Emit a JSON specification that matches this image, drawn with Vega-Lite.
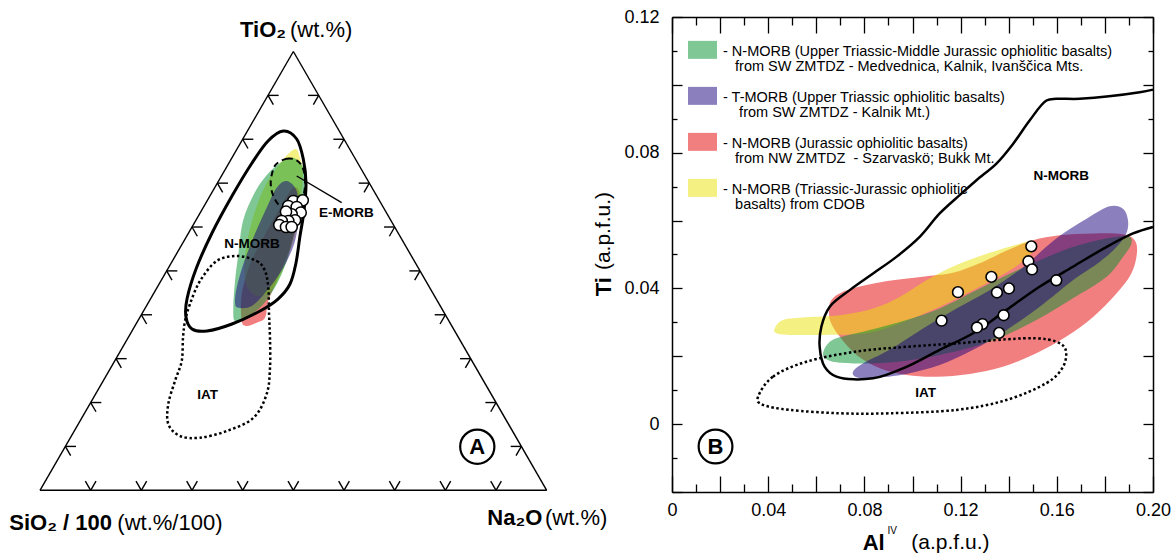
{
  "$schema": "https://vega.github.io/schema/vega-lite/v6.json",
  "padding": {"left": 0, "top": 8, "right": 0, "bottom": 0},
  "bounds": "flush",
  "spacing": 72,
  "config": {
    "font": "Liberation Sans",
    "view": {"stroke": null},
    "axis": {"grid": false, "domainColor": "black", "tickColor": "black", "labelColor": "black", "domainWidth": 1.5, "tickWidth": 1.3, "labelFont": "Liberation Sans"},
    "text": {"font": "Liberation Sans", "color": "black"}
  },
  "resolve": {"scale": {"color": "independent"}, "legend": {"color": "independent"}},
  "datasets": {
    "a_red": [{"x":0.3981,"y":0.3868},{"x":0.3981,"y":0.3341},{"x":0.4079,"y":0.3243},{"x":0.4277,"y":0.3308},{"x":0.4441,"y":0.3406},{"x":0.4506,"y":0.3736},{"x":0.4671,"y":0.4131},{"x":0.4934,"y":0.4788},{"x":0.5098,"y":0.5380},{"x":0.5131,"y":0.5842},{"x":0.4999,"y":0.5972},{"x":0.4737,"y":0.5577},{"x":0.4407,"y":0.4985},{"x":0.4145,"y":0.4460}],
    "a_yellow": [{"x":0.5033,"y":0.6736},{"x":0.5131,"y":0.6558},{"x":0.5190,"y":0.6203},{"x":0.5092,"y":0.5315},{"x":0.4934,"y":0.4723},{"x":0.4638,"y":0.4032},{"x":0.4302,"y":0.3835},{"x":0.4066,"y":0.4072},{"x":0.4046,"y":0.4624},{"x":0.4184,"y":0.5315},{"x":0.4441,"y":0.6006},{"x":0.4776,"y":0.6499}],
    "a_green": [{"x":0.4999,"y":0.6564},{"x":0.5230,"y":0.6302},{"x":0.5230,"y":0.5842},{"x":0.5171,"y":0.5414},{"x":0.5033,"y":0.5118},{"x":0.4869,"y":0.4525},{"x":0.4671,"y":0.4066},{"x":0.4407,"y":0.3671},{"x":0.4079,"y":0.3406},{"x":0.3849,"y":0.3341},{"x":0.3815,"y":0.3604},{"x":0.3849,"y":0.4131},{"x":0.3914,"y":0.4658},{"x":0.4006,"y":0.5315},{"x":0.4223,"y":0.5848},{"x":0.4460,"y":0.6203},{"x":0.4737,"y":0.6460}],
    "a_purple": [{"x":0.3849,"y":0.3702},{"x":0.3914,"y":0.3604},{"x":0.4178,"y":0.3637},{"x":0.4474,"y":0.3933},{"x":0.4802,"y":0.4393},{"x":0.5033,"y":0.4920},{"x":0.5098,"y":0.5447},{"x":0.5066,"y":0.5907},{"x":0.4869,"y":0.6104},{"x":0.4671,"y":0.5972},{"x":0.4474,"y":0.5577},{"x":0.4210,"y":0.4985},{"x":0.4012,"y":0.4460},{"x":0.3882,"y":0.3998}],
    "a_nmorb": [{"x":0.4802,"y":0.7091},{"x":0.5066,"y":0.6933},{"x":0.5196,"y":0.6539},{"x":0.5250,"y":0.6065},{"x":0.5210,"y":0.5512},{"x":0.5131,"y":0.5019},{"x":0.5052,"y":0.4486},{"x":0.4934,"y":0.4072},{"x":0.4697,"y":0.3775},{"x":0.4342,"y":0.3539},{"x":0.3789,"y":0.3282},{"x":0.3296,"y":0.3144},{"x":0.3000,"y":0.3183},{"x":0.2881,"y":0.3420},{"x":0.2901,"y":0.3775},{"x":0.3079,"y":0.4368},{"x":0.3395,"y":0.5078},{"x":0.3789,"y":0.5808},{"x":0.4184,"y":0.6460},{"x":0.4500,"y":0.6894}],
    "a_emorb": [{"x":0.4671,"y":0.6446},{"x":0.4869,"y":0.6544},{"x":0.5066,"y":0.6513},{"x":0.5185,"y":0.6367},{"x":0.5230,"y":0.6138},{"x":0.5210,"y":0.5873},{"x":0.5098,"y":0.5644},{"x":0.4869,"y":0.5565},{"x":0.4703,"y":0.5644},{"x":0.4593,"y":0.5842},{"x":0.4553,"y":0.6071},{"x":0.4593,"y":0.6302}],
    "a_iat": [{"x":0.3882,"y":0.4624},{"x":0.4277,"y":0.4525},{"x":0.4441,"y":0.4328},{"x":0.4506,"y":0.3993},{"x":0.4520,"y":0.3479},{"x":0.4539,"y":0.3006},{"x":0.4539,"y":0.2414},{"x":0.4474,"y":0.1901},{"x":0.4210,"y":0.1427},{"x":0.3685,"y":0.1170},{"x":0.3158,"y":0.1038},{"x":0.2763,"y":0.1072},{"x":0.2532,"y":0.1308},{"x":0.2532,"y":0.1703},{"x":0.2664,"y":0.2157},{"x":0.2797,"y":0.2552},{"x":0.2822,"y":0.3006},{"x":0.2862,"y":0.3341},{"x":0.2960,"y":0.3677},{"x":0.3158,"y":0.4131},{"x":0.3487,"y":0.4525}],
    "a_rules": [
      {"x":0,"y":0,"x2":1,"y2":0},{"x":0,"y":0,"x2":0.5,"y2":0.866},{"x":1,"y":0,"x2":0.5,"y2":0.866},
      {"x":0.1,"y":0,"x2":0.0895,"y2":0.0182},{"x":0.1,"y":0,"x2":0.1105,"y2":0.0182},
      {"x":0.2,"y":0,"x2":0.1895,"y2":0.0182},{"x":0.2,"y":0,"x2":0.2105,"y2":0.0182},
      {"x":0.3,"y":0,"x2":0.2895,"y2":0.0182},{"x":0.3,"y":0,"x2":0.3105,"y2":0.0182},
      {"x":0.4,"y":0,"x2":0.3895,"y2":0.0182},{"x":0.4,"y":0,"x2":0.4105,"y2":0.0182},
      {"x":0.5,"y":0,"x2":0.4895,"y2":0.0182},{"x":0.5,"y":0,"x2":0.5105,"y2":0.0182},
      {"x":0.6,"y":0,"x2":0.5895,"y2":0.0182},{"x":0.6,"y":0,"x2":0.6105,"y2":0.0182},
      {"x":0.7,"y":0,"x2":0.6895,"y2":0.0182},{"x":0.7,"y":0,"x2":0.7105,"y2":0.0182},
      {"x":0.8,"y":0,"x2":0.7895,"y2":0.0182},{"x":0.8,"y":0,"x2":0.8105,"y2":0.0182},
      {"x":0.9,"y":0,"x2":0.8895,"y2":0.0182},{"x":0.9,"y":0,"x2":0.9105,"y2":0.0182},
      {"x":0.05,"y":0.0866,"x2":0.071,"y2":0.0866},{"x":0.05,"y":0.0866,"x2":0.0605,"y2":0.0684},
      {"x":0.10,"y":0.1732,"x2":0.121,"y2":0.1732},{"x":0.10,"y":0.1732,"x2":0.1105,"y2":0.1550},
      {"x":0.15,"y":0.2598,"x2":0.171,"y2":0.2598},{"x":0.15,"y":0.2598,"x2":0.1605,"y2":0.2416},
      {"x":0.20,"y":0.3464,"x2":0.221,"y2":0.3464},{"x":0.20,"y":0.3464,"x2":0.2105,"y2":0.3282},
      {"x":0.25,"y":0.4330,"x2":0.271,"y2":0.4330},{"x":0.25,"y":0.4330,"x2":0.2605,"y2":0.4148},
      {"x":0.30,"y":0.5196,"x2":0.321,"y2":0.5196},{"x":0.30,"y":0.5196,"x2":0.3105,"y2":0.5014},
      {"x":0.35,"y":0.6062,"x2":0.371,"y2":0.6062},{"x":0.35,"y":0.6062,"x2":0.3605,"y2":0.5880},
      {"x":0.40,"y":0.6928,"x2":0.421,"y2":0.6928},{"x":0.40,"y":0.6928,"x2":0.4105,"y2":0.6746},
      {"x":0.45,"y":0.7794,"x2":0.471,"y2":0.7794},{"x":0.45,"y":0.7794,"x2":0.4605,"y2":0.7612},
      {"x":0.95,"y":0.0866,"x2":0.929,"y2":0.0866},{"x":0.95,"y":0.0866,"x2":0.9395,"y2":0.0684},
      {"x":0.90,"y":0.1732,"x2":0.879,"y2":0.1732},{"x":0.90,"y":0.1732,"x2":0.8895,"y2":0.1550},
      {"x":0.85,"y":0.2598,"x2":0.829,"y2":0.2598},{"x":0.85,"y":0.2598,"x2":0.8395,"y2":0.2416},
      {"x":0.80,"y":0.3464,"x2":0.779,"y2":0.3464},{"x":0.80,"y":0.3464,"x2":0.7895,"y2":0.3282},
      {"x":0.75,"y":0.4330,"x2":0.729,"y2":0.4330},{"x":0.75,"y":0.4330,"x2":0.7395,"y2":0.4148},
      {"x":0.70,"y":0.5196,"x2":0.679,"y2":0.5196},{"x":0.70,"y":0.5196,"x2":0.6895,"y2":0.5014},
      {"x":0.65,"y":0.6062,"x2":0.629,"y2":0.6062},{"x":0.65,"y":0.6062,"x2":0.6395,"y2":0.5880},
      {"x":0.60,"y":0.6928,"x2":0.579,"y2":0.6928},{"x":0.60,"y":0.6928,"x2":0.5895,"y2":0.6746},
      {"x":0.55,"y":0.7794,"x2":0.529,"y2":0.7794},{"x":0.55,"y":0.7794,"x2":0.5395,"y2":0.7612},
      {"x":0.5066,"y":0.6203,"x2":0.5954,"y2":0.5676}
    ],
    "a_pts": [{"x":0.4999,"y":0.5710},{"x":0.5185,"y":0.5723},{"x":0.4900,"y":0.5611},{"x":0.5066,"y":0.5591},{"x":0.5145,"y":0.5479},{"x":0.4967,"y":0.5447},{"x":0.4855,"y":0.5498},{"x":0.5033,"y":0.5329},{"x":0.4900,"y":0.5315},{"x":0.4770,"y":0.5315},{"x":0.4723,"y":0.5236},{"x":0.4855,"y":0.5196},{"x":0.4967,"y":0.5196}],
    "a_ring": [{"x":0.8630,"y":0.0860,"t":"A"}],
    "a_lbl": [{"x":0.4184,"y":0.4855,"t":"N-MORB"},{"x":0.6045,"y":0.5479,"t":"E-MORB"},{"x":0.3306,"y":0.1875,"t":"IAT"}],
    "a_tb": [{"x":0.3947,"y":0.9078,"t":"TiO₂"},{"x":-0.0606,"y":-0.0639,"t":"SiO₂ / 100"},{"x":0.8828,"y":-0.0541,"t":"Na₂O"}],
    "a_tn": [{"x":0.4934,"y":0.9078,"t":"(wt.%)"},{"x":0.1526,"y":-0.0639,"t":"(wt.%/100)"},{"x":0.9966,"y":-0.0541,"t":"(wt.%)"}],
    "b_red": [{"x":0.0653,"y":0.0336},{"x":0.0663,"y":0.0366},{"x":0.0711,"y":0.0390},{"x":0.0808,"y":0.0410},{"x":0.0919,"y":0.0424},{"x":0.1058,"y":0.0436},{"x":0.1168,"y":0.0446},{"x":0.1279,"y":0.0474},{"x":0.1390,"y":0.0511},{"x":0.1501,"y":0.0542},{"x":0.1612,"y":0.0557},{"x":0.1751,"y":0.0562},{"x":0.1875,"y":0.0560},{"x":0.1924,"y":0.0542},{"x":0.1933,"y":0.0503},{"x":0.1910,"y":0.0444},{"x":0.1848,"y":0.0385},{"x":0.1751,"y":0.0316},{"x":0.1640,"y":0.0258},{"x":0.1515,"y":0.0209},{"x":0.1376,"y":0.0169},{"x":0.1238,"y":0.0148},{"x":0.1099,"y":0.0140},{"x":0.0975,"y":0.0145},{"x":0.0864,"y":0.0165},{"x":0.0767,"y":0.0204},{"x":0.0697,"y":0.0258},{"x":0.0659,"y":0.0302}],
    "b_yellow": [{"x":0.0427,"y":0.0282},{"x":0.0462,"y":0.0307},{"x":0.0559,"y":0.0315},{"x":0.0697,"y":0.0321},{"x":0.0836,"y":0.0341},{"x":0.0947,"y":0.0375},{"x":0.1058,"y":0.0424},{"x":0.1183,"y":0.0469},{"x":0.1321,"y":0.0505},{"x":0.1446,"y":0.0532},{"x":0.1487,"y":0.0537},{"x":0.1508,"y":0.0522},{"x":0.1487,"y":0.0498},{"x":0.1418,"y":0.0459},{"x":0.1279,"y":0.0405},{"x":0.1113,"y":0.0346},{"x":0.0947,"y":0.0297},{"x":0.0808,"y":0.0268},{"x":0.0628,"y":0.0263},{"x":0.0489,"y":0.0263},{"x":0.0434,"y":0.0268}],
    "b_green": [{"x":0.0628,"y":0.0209},{"x":0.0649,"y":0.0238},{"x":0.0697,"y":0.0256},{"x":0.0836,"y":0.0280},{"x":0.0975,"y":0.0307},{"x":0.1113,"y":0.0341},{"x":0.1252,"y":0.0390},{"x":0.1390,"y":0.0439},{"x":0.1529,"y":0.0483},{"x":0.1667,"y":0.0522},{"x":0.1806,"y":0.0547},{"x":0.1896,"y":0.0554},{"x":0.1910,"y":0.0532},{"x":0.1875,"y":0.0493},{"x":0.1806,"y":0.0434},{"x":0.1667,"y":0.0371},{"x":0.1529,"y":0.0312},{"x":0.1390,"y":0.0263},{"x":0.1252,"y":0.0228},{"x":0.1113,"y":0.0204},{"x":0.0975,"y":0.0187},{"x":0.0836,"y":0.0179},{"x":0.0697,"y":0.0181},{"x":0.0642,"y":0.0191}],
    "b_purple": [{"x":0.0753,"y":0.0155},{"x":0.0794,"y":0.0179},{"x":0.0905,"y":0.0219},{"x":0.1044,"y":0.0282},{"x":0.1183,"y":0.0341},{"x":0.1321,"y":0.0395},{"x":0.1459,"y":0.0462},{"x":0.1598,"y":0.0547},{"x":0.1737,"y":0.0611},{"x":0.1820,"y":0.0642},{"x":0.1875,"y":0.0635},{"x":0.1896,"y":0.0601},{"x":0.1889,"y":0.0562},{"x":0.1848,"y":0.0522},{"x":0.1778,"y":0.0478},{"x":0.1667,"y":0.0424},{"x":0.1529,"y":0.0346},{"x":0.1390,"y":0.0277},{"x":0.1252,"y":0.0219},{"x":0.1113,"y":0.0174},{"x":0.0975,"y":0.0148},{"x":0.0836,"y":0.0136},{"x":0.0767,"y":0.0138}],
    "b_nmorb": [{"x":0.2000,"y":0.0986},{"x":0.1945,"y":0.0978},{"x":0.1695,"y":0.0959},{"x":0.1598,"y":0.0959},{"x":0.1557,"y":0.0954},{"x":0.1487,"y":0.0895},{"x":0.1418,"y":0.0826},{"x":0.1349,"y":0.0768},{"x":0.1266,"y":0.0719},{"x":0.1196,"y":0.0675},{"x":0.1113,"y":0.0621},{"x":0.1030,"y":0.0552},{"x":0.0933,"y":0.0493},{"x":0.0836,"y":0.0444},{"x":0.0739,"y":0.0395},{"x":0.0656,"y":0.0346},{"x":0.0621,"y":0.0287},{"x":0.0614,"y":0.0228},{"x":0.0635,"y":0.0169},{"x":0.0684,"y":0.0140},{"x":0.0836,"y":0.0135},{"x":0.0975,"y":0.0169},{"x":0.1113,"y":0.0219},{"x":0.1252,"y":0.0268},{"x":0.1390,"y":0.0336},{"x":0.1528,"y":0.0405},{"x":0.1667,"y":0.0464},{"x":0.1806,"y":0.0522},{"x":0.1917,"y":0.0562},{"x":0.2000,"y":0.0581}],
    "b_iat": [{"x":0.0358,"y":0.0081},{"x":0.0420,"y":0.0140},{"x":0.0559,"y":0.0184},{"x":0.0767,"y":0.0214},{"x":0.0975,"y":0.0228},{"x":0.1183,"y":0.0238},{"x":0.1390,"y":0.0250},{"x":0.1515,"y":0.0253},{"x":0.1598,"y":0.0243},{"x":0.1637,"y":0.0219},{"x":0.1626,"y":0.0169},{"x":0.1557,"y":0.0121},{"x":0.1390,"y":0.0071},{"x":0.1183,"y":0.0042},{"x":0.0905,"y":0.0032},{"x":0.0697,"y":0.0032},{"x":0.0489,"y":0.0042},{"x":0.0378,"y":0.0057}],
    "b_pts": [{"x":0.1494,"y":0.0524},{"x":0.1482,"y":0.0480},{"x":0.1497,"y":0.0456},{"x":0.1598,"y":0.0424},{"x":0.1328,"y":0.0434},{"x":0.1189,"y":0.0389},{"x":0.1351,"y":0.0388},{"x":0.1401,"y":0.0400},{"x":0.1121,"y":0.0305},{"x":0.1379,"y":0.0321},{"x":0.1291,"y":0.0295},{"x":0.1268,"y":0.0285},{"x":0.1360,"y":0.0269}],
    "b_ring": [{"x":0.0181,"y":-0.0066,"t":"B"}],
    "b_lbl": [{"x":0.1619,"y":0.0731,"t":"N-MORB"},{"x":0.1055,"y":0.0091,"t":"IAT"}],
    "b_xtb": [{"x":0.0793,"y":-0.0349,"t":"Al"}],
    "b_xts": [{"x":0.0896,"y":-0.0314,"t":"IV"}],
    "b_xtn": [{"x":0.0995,"y":-0.0349,"t":"(a.p.f.u.)"}],
    "b_ytb": [{"x":-0.0284,"y":0.0377,"t":"Ti"}],
    "b_ytn": [{"x":-0.0284,"y":0.0454,"t":"(a.p.f.u.)"}]
  },
  "hconcat": [
    {
      "width": 600,
      "height": 475,
      "encoding": {
        "x": {"field": "x", "type": "quantitative", "scale": {"domain": [-0.07894, 1.10519], "nice": false, "zero": false}, "axis": null},
        "y": {"field": "y", "type": "quantitative", "scale": {"domain": [-0.00336, 0.93408], "nice": false, "zero": false}, "axis": null}
      },
      "layer": [
        {"data": {"name": "a_red"}, "mark": {"type": "line", "filled": true, "interpolate": "cardinal-closed", "color": "#e60000", "opacity": 0.5, "strokeWidth": 0}, "encoding": {"order": {"value": null}}},
        {"data": {"name": "a_yellow"}, "mark": {"type": "line", "filled": true, "interpolate": "cardinal-closed", "color": "#e9e105", "opacity": 0.5, "strokeWidth": 0}, "encoding": {"order": {"value": null}}},
        {"data": {"name": "a_green"}, "mark": {"type": "line", "filled": true, "interpolate": "cardinal-closed", "color": "#00912d", "opacity": 0.5, "strokeWidth": 0}, "encoding": {"order": {"value": null}}},
        {"data": {"name": "a_purple"}, "mark": {"type": "line", "filled": true, "interpolate": "cardinal-closed", "color": "#19007d", "opacity": 0.5, "strokeWidth": 0}, "encoding": {"order": {"value": null}}},
        {"data": {"name": "a_nmorb"}, "mark": {"type": "line", "interpolate": "cardinal-closed", "color": "black", "strokeWidth": 3}, "encoding": {"order": {"value": null}}},
        {"data": {"name": "a_emorb"}, "mark": {"type": "line", "interpolate": "cardinal-closed", "color": "black", "strokeWidth": 2, "strokeDash": [6, 4]}, "encoding": {"order": {"value": null}}},
        {"data": {"name": "a_iat"}, "mark": {"type": "line", "interpolate": "cardinal-closed", "color": "black", "strokeWidth": 2.5, "strokeDash": [2.5, 2.5]}, "encoding": {"order": {"value": null}}},
        {"data": {"name": "a_rules"}, "mark": {"type": "rule", "color": "black", "strokeWidth": 1.4}, "encoding": {"x2": {"field": "x2"}, "y2": {"field": "y2"}}},
        {"data": {"name": "a_pts"}, "mark": {"type": "point", "shape": "circle", "filled": true, "fill": "white", "stroke": "black", "strokeWidth": 1.5, "size": 125, "opacity": 1}},
        {"data": {"name": "a_ring"}, "mark": {"type": "point", "shape": "circle", "filled": false, "stroke": "black", "strokeWidth": 2.2, "size": 1170, "opacity": 1}},
        {"data": {"name": "a_ring"}, "mark": {"type": "text", "fontSize": 22, "fontWeight": "bold", "align": "center", "baseline": "middle"}, "encoding": {"text": {"field": "t"}}},
        {"data": {"name": "a_lbl"}, "mark": {"type": "text", "fontSize": 13.5, "fontWeight": "bold", "align": "center", "baseline": "middle"}, "encoding": {"text": {"field": "t"}}},
        {"data": {"name": "a_tb"}, "mark": {"type": "text", "fontSize": 22, "fontWeight": "bold", "align": "left", "baseline": "middle"}, "encoding": {"text": {"field": "t"}}},
        {"data": {"name": "a_tn"}, "mark": {"type": "text", "fontSize": 22, "fontWeight": "normal", "align": "left", "baseline": "middle"}, "encoding": {"text": {"field": "t"}}}
      ]
    },
    {
      "width": 481,
      "height": 475,
      "resolve": {"axis": {"x": "independent", "y": "independent"}},
      "layer": [
        {"data": {"name": "b_red"}, "mark": {"type": "line", "filled": true, "interpolate": "cardinal-closed", "opacity": 0.5, "strokeWidth": 0},
         "encoding": {
           "x": {"field": "x", "type": "quantitative", "scale": {"domain": [0, 0.2], "nice": false, "zero": false},
                 "axis": {"orient": "bottom", "values": [0, 0.04, 0.08, 0.12, 0.16, 0.2], "ticks": false, "domain": true, "labels": true, "labelExpr": "datum.value == 0 ? '0' : format(datum.value, '.2f')", "labelFontSize": 18, "labelPadding": 9, "labelFlush": false, "labelOverlap": false, "title": null, "grid": false}},
           "y": {"field": "y", "type": "quantitative", "scale": {"domain": [-0.02, 0.12], "nice": false, "zero": false},
                 "axis": {"orient": "left", "values": [0, 0.04, 0.08, 0.12], "ticks": false, "domain": true, "labels": true, "labelExpr": "datum.value == 0 ? '0' : format(datum.value, '.2f')", "labelFontSize": 18, "labelPadding": 13, "labelFlush": false, "labelOverlap": false, "title": null, "grid": false}},
           "color": {"datum": "red", "type": "nominal",
                     "scale": {"domain": ["green", "purple", "red", "yellow"], "range": ["#00912d", "#19007d", "#e60000", "#e9e105"]},
                     "legend": {"orient": "none", "legendX": 16, "legendY": 13, "title": null, "direction": "vertical", "symbolType": "M-1,-0.25H1V0.99H-1Z", "symbolSize": 841, "symbolStrokeWidth": 0, "symbolOpacity": 0.5, "labelFontSize": 14.5, "labelFont": "Liberation Sans", "labelColor": "black", "labelLimit": 0, "labelOffset": 6, "labelBaseline": "top", "rowPadding": 3, "padding": 0,
                                "encode": {"labels": {"update": {"lineHeight": {"value": 15}}}},
                                "labelExpr": "datum.label == 'green' ? ['- N-MORB (Upper Triassic-Middle Jurassic ophiolitic basalts)', '\u200b\u00a0\u00a0\u00a0from SW ZMTDZ - Medvednica, Kalnik, Ivanščica Mts.'] : datum.label == 'purple' ? ['- T-MORB (Upper Triassic ophiolitic basalts)', '\u200b\u00a0\u00a0\u00a0\u00a0from SW ZMTDZ - Kalnik Mt.)'] : datum.label == 'red' ? ['- N-MORB (Jurassic ophiolitic basalts)', '\u200b\u00a0\u00a0\u00a0from NW ZMTDZ \u00a0- Szarvaskö; Bukk Mt.'] : ['- N-MORB (Triassic-Jurassic ophiolitic', '\u200b\u00a0\u00a0\u00a0basalts) from CDOB']"}},
           "order": {"value": null}}},
        {"data": {"name": "b_yellow"}, "mark": {"type": "line", "filled": true, "interpolate": "cardinal-closed", "opacity": 0.5, "strokeWidth": 0},
         "encoding": {"x": {"field": "x", "type": "quantitative", "axis": null}, "y": {"field": "y", "type": "quantitative", "axis": null}, "color": {"datum": "yellow", "type": "nominal"}, "order": {"value": null}}},
        {"data": {"name": "b_green"}, "mark": {"type": "line", "filled": true, "interpolate": "cardinal-closed", "opacity": 0.5, "strokeWidth": 0},
         "encoding": {"x": {"field": "x", "type": "quantitative", "axis": null}, "y": {"field": "y", "type": "quantitative", "axis": null}, "color": {"datum": "green", "type": "nominal"}, "order": {"value": null}}},
        {"data": {"name": "b_purple"}, "mark": {"type": "line", "filled": true, "interpolate": "cardinal-closed", "opacity": 0.5, "strokeWidth": 0},
         "encoding": {"x": {"field": "x", "type": "quantitative", "axis": null}, "y": {"field": "y", "type": "quantitative", "axis": null}, "color": {"datum": "purple", "type": "nominal"}, "order": {"value": null}}},
        {"data": {"name": "b_nmorb"}, "mark": {"type": "line", "interpolate": "catmull-rom", "color": "black", "strokeWidth": 2.5},
         "encoding": {
           "x": {"field": "x", "type": "quantitative", "axis": {"orient": "bottom", "values": [0, 0.02, 0.04, 0.06, 0.08, 0.1, 0.12, 0.14, 0.16, 0.18, 0.2], "ticks": true, "tickSize": -16, "labels": false, "domain": false, "title": null, "grid": false}},
           "y": {"field": "y", "type": "quantitative", "axis": {"orient": "left", "values": [-0.02, 0, 0.02, 0.04, 0.06, 0.08, 0.1, 0.12], "ticks": true, "tickSize": -10, "labels": false, "domain": false, "title": null, "grid": false}},
           "order": {"value": null}}},
        {"data": {"name": "b_iat"}, "mark": {"type": "line", "interpolate": "cardinal-closed", "color": "black", "strokeWidth": 2.5, "strokeDash": [2.5, 2.5]},
         "encoding": {
           "x": {"field": "x", "type": "quantitative", "axis": {"orient": "bottom", "values": [0.01, 0.03, 0.05, 0.07, 0.09, 0.11, 0.13, 0.15, 0.17, 0.19], "ticks": true, "tickSize": -8, "labels": false, "domain": false, "title": null, "grid": false}},
           "y": {"field": "y", "type": "quantitative", "axis": {"orient": "left", "values": [-0.01, 0.01, 0.03, 0.05, 0.07, 0.09, 0.11], "ticks": true, "tickSize": -5, "labels": false, "domain": false, "title": null, "grid": false}},
           "order": {"value": null}}},
        {"data": {"name": "b_pts"}, "mark": {"type": "point", "shape": "circle", "filled": true, "fill": "white", "stroke": "black", "strokeWidth": 1.6, "size": 115, "opacity": 1},
         "encoding": {
           "x": {"field": "x", "type": "quantitative", "axis": {"orient": "top", "values": [0, 0.02, 0.04, 0.06, 0.08, 0.1, 0.12, 0.14, 0.16, 0.18, 0.2], "ticks": true, "tickSize": -16, "labels": false, "domain": true, "title": null, "grid": false}},
           "y": {"field": "y", "type": "quantitative", "axis": {"orient": "right", "values": [-0.02, 0, 0.02, 0.04, 0.06, 0.08, 0.1, 0.12], "ticks": true, "tickSize": -10, "labels": false, "domain": true, "title": null, "grid": false}}}},
        {"data": {"name": "b_ring"}, "mark": {"type": "point", "shape": "circle", "filled": false, "stroke": "black", "strokeWidth": 2.2, "size": 1140, "opacity": 1},
         "encoding": {
           "x": {"field": "x", "type": "quantitative", "axis": {"orient": "top", "values": [0.01, 0.03, 0.05, 0.07, 0.09, 0.11, 0.13, 0.15, 0.17, 0.19], "ticks": true, "tickSize": -8, "labels": false, "domain": false, "title": null, "grid": false}},
           "y": {"field": "y", "type": "quantitative", "axis": {"orient": "right", "values": [-0.01, 0.01, 0.03, 0.05, 0.07, 0.09, 0.11], "ticks": true, "tickSize": -5, "labels": false, "domain": false, "title": null, "grid": false}}}},
        {"data": {"name": "b_ring"}, "mark": {"type": "text", "fontSize": 22, "fontWeight": "bold", "align": "center", "baseline": "middle"},
         "encoding": {"x": {"field": "x", "type": "quantitative", "axis": null}, "y": {"field": "y", "type": "quantitative", "axis": null}, "text": {"field": "t"}}},
        {"data": {"name": "b_lbl"}, "mark": {"type": "text", "fontSize": 13.5, "fontWeight": "bold", "align": "center", "baseline": "middle"},
         "encoding": {"x": {"field": "x", "type": "quantitative", "axis": null}, "y": {"field": "y", "type": "quantitative", "axis": null}, "text": {"field": "t"}}},
        {"data": {"name": "b_xtb"}, "mark": {"type": "text", "fontSize": 22, "fontWeight": "bold", "align": "left", "baseline": "middle"},
         "encoding": {"x": {"field": "x", "type": "quantitative", "axis": null}, "y": {"field": "y", "type": "quantitative", "axis": null}, "text": {"field": "t"}}},
        {"data": {"name": "b_xts"}, "mark": {"type": "text", "fontSize": 10, "fontWeight": "normal", "align": "left", "baseline": "middle"},
         "encoding": {"x": {"field": "x", "type": "quantitative", "axis": null}, "y": {"field": "y", "type": "quantitative", "axis": null}, "text": {"field": "t"}}},
        {"data": {"name": "b_xtn"}, "mark": {"type": "text", "fontSize": 21, "fontWeight": "normal", "align": "left", "baseline": "middle"},
         "encoding": {"x": {"field": "x", "type": "quantitative", "axis": null}, "y": {"field": "y", "type": "quantitative", "axis": null}, "text": {"field": "t"}}},
        {"data": {"name": "b_ytb"}, "mark": {"type": "text", "fontSize": 22, "fontWeight": "bold", "align": "left", "baseline": "middle", "angle": 270},
         "encoding": {"x": {"field": "x", "type": "quantitative", "axis": null}, "y": {"field": "y", "type": "quantitative", "axis": null}, "text": {"field": "t"}}},
        {"data": {"name": "b_ytn"}, "mark": {"type": "text", "fontSize": 21, "fontWeight": "normal", "align": "left", "baseline": "middle", "angle": 270},
         "encoding": {"x": {"field": "x", "type": "quantitative", "axis": null}, "y": {"field": "y", "type": "quantitative", "axis": null}, "text": {"field": "t"}}}
      ]
    }
  ]
}
